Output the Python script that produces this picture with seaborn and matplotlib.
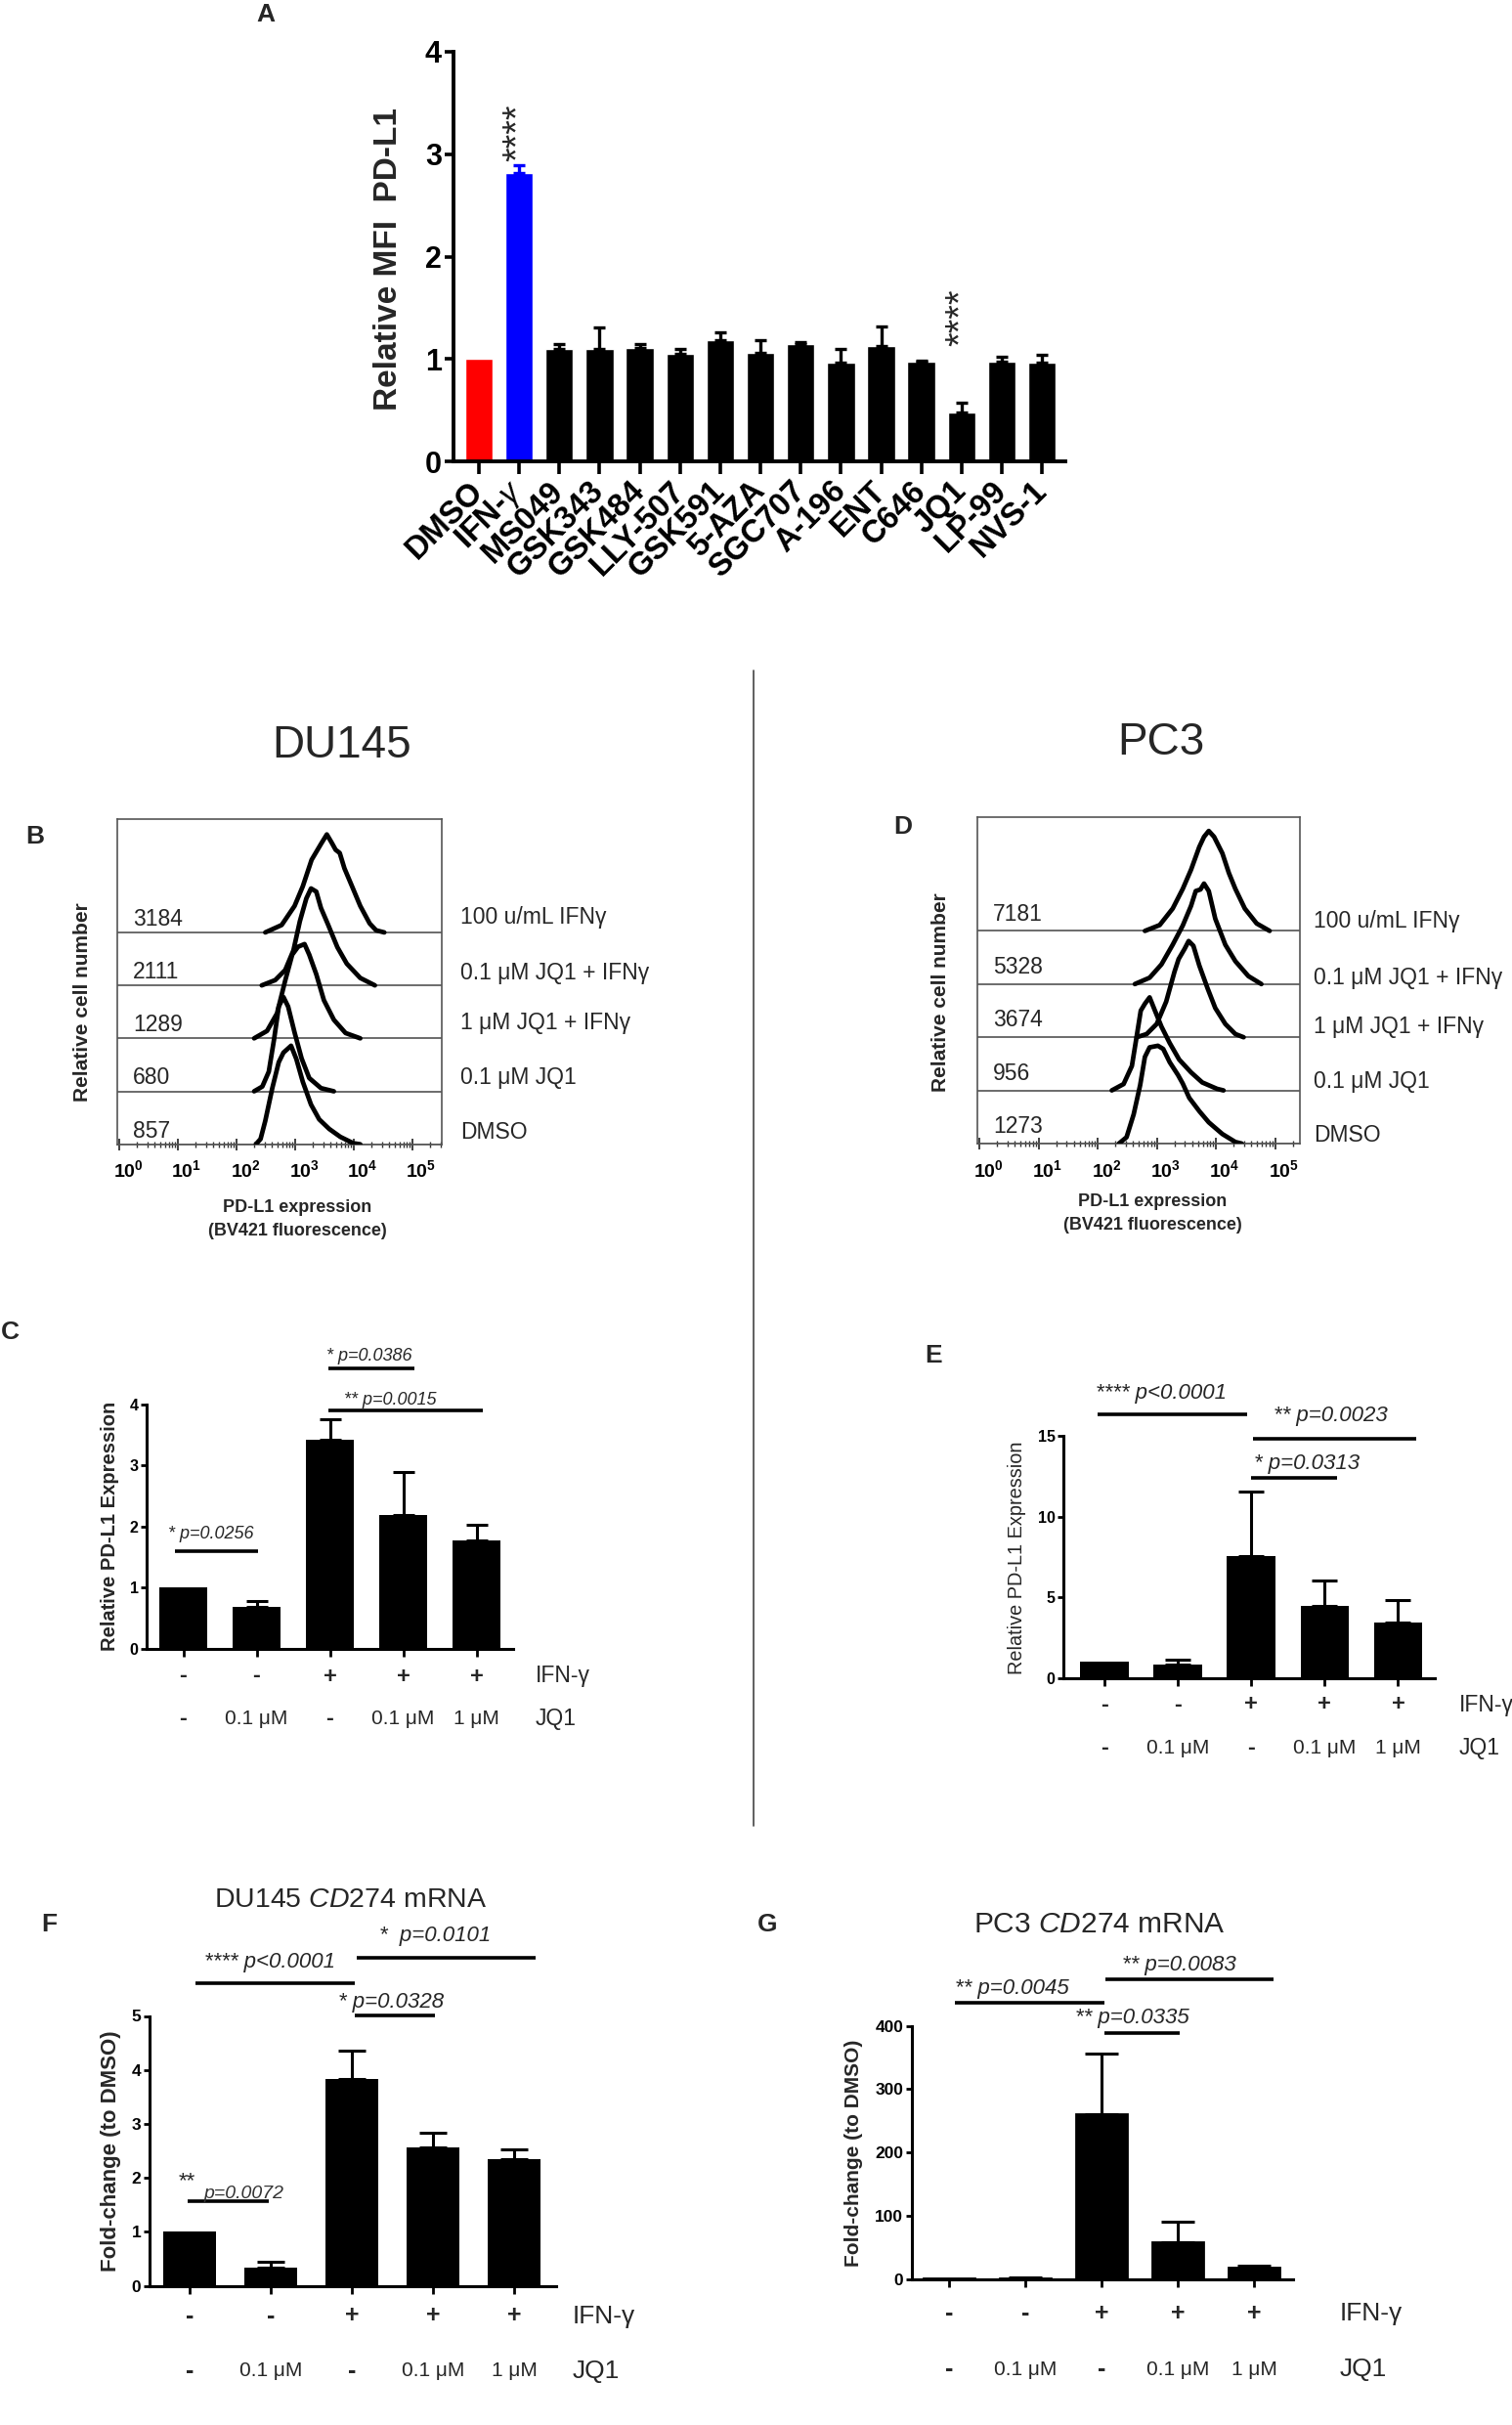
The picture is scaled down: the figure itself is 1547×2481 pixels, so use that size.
import numpy as np
import matplotlib
matplotlib.use("Agg")
import matplotlib.pyplot as plt
import matplotlib.transforms as mtransforms
from matplotlib.lines import Line2D
import seaborn as sns

# ---------------- data ----------------
# A: epigenetic probe screen, relative MFI of PD-L1
drug_labels = ['DMSO', 'IFN-$\\gamma$', 'MS049', 'GSK343', 'GSK484', 'LLY-507', 'GSK591',
               '5-AZA', 'SGC707', 'A-196', 'ENT', 'C646', 'JQ1', 'LP-99', 'NVS-1']
drug_mfi = [1.00, 2.82, 1.10, 1.10, 1.11, 1.05, 1.18, 1.06, 1.15, 0.96, 1.13, 0.97, 0.48, 0.97, 0.96]
drug_err = [0.00, 0.07, 0.05, 0.21, 0.04, 0.05, 0.08, 0.12, 0.01, 0.14, 0.19, 0.01, 0.09, 0.05, 0.08]
drug_colors = ['#ff0000', '#0000ff'] + ['#000000'] * 13

# B / D: flow histograms (log10 fluorescence, relative height), top row first
hist_names = ['100 u/mL IFNγ', '0.1 μM JQ1 + IFNγ', '1 μM JQ1 + IFNγ', '0.1 μM JQ1', 'DMSO']
du145_mfi = ['3184', '2111', '1289', '680', '857']
pc3_mfi = ['7181', '5328', '3674', '956', '1273']

du145_logx = [
    [2.49, 2.77, 2.99, 3.13, 3.28, 3.36, 3.44, 3.54, 3.62, 3.69, 3.76, 3.84, 3.97, 4.11, 4.27, 4.38, 4.52],
    [2.43, 2.66, 2.83, 2.97, 3.08, 3.19, 3.27, 3.36, 3.44, 3.56, 3.72, 3.88, 4.11, 4.36],
    [2.30, 2.52, 2.69, 2.83, 2.95, 3.05, 3.16, 3.24, 3.36, 3.49, 3.66, 3.86, 4.11],
    [2.30, 2.44, 2.55, 2.64, 2.72, 2.80, 2.88, 2.99, 3.11, 3.24, 3.44, 3.66],
    [2.33, 2.41, 2.49, 2.61, 2.72, 2.80, 2.93, 3.02, 3.13, 3.27, 3.41, 3.58, 3.77, 3.99, 4.11],
]
du145_height = [
    [0, 0.14, 0.50, 0.87, 1.37, 1.52, 1.67, 1.85, 1.70, 1.56, 1.50, 1.21, 0.87, 0.50, 0.17, 0.04, 0],
    [0, 0.10, 0.29, 0.66, 1.21, 1.64, 1.83, 1.77, 1.46, 1.15, 0.72, 0.41, 0.14, 0],
    [0, 0.14, 0.47, 1.09, 1.58, 1.73, 1.78, 1.58, 1.21, 0.72, 0.35, 0.10, 0],
    [0, 0.09, 0.37, 0.98, 1.60, 1.78, 1.60, 1.11, 0.62, 0.25, 0.06, 0],
    [0, 0.10, 0.44, 1.06, 1.55, 1.73, 1.86, 1.61, 1.18, 0.75, 0.47, 0.29, 0.14, 0.02, 0],
]
pc3_logx = [
    [2.80, 3.05, 3.27, 3.44, 3.58, 3.72, 3.80, 3.88, 3.97, 4.11, 4.22, 4.33, 4.49, 4.69, 4.91],
    [2.63, 2.88, 3.08, 3.27, 3.44, 3.58, 3.66, 3.74, 3.80, 3.88, 3.99, 4.16, 4.33, 4.55, 4.77],
    [2.66, 2.83, 3.00, 3.16, 3.30, 3.37, 3.47, 3.54, 3.62, 3.72, 3.86, 3.99, 4.16, 4.33, 4.47],
    [2.24, 2.44, 2.58, 2.66, 2.73, 2.80, 2.88, 2.97, 3.08, 3.22, 3.38, 3.58, 3.77, 4.02, 4.13],
    [2.36, 2.49, 2.61, 2.72, 2.80, 2.88, 3.02, 3.11, 3.22, 3.36, 3.44, 3.55, 3.72, 3.88, 4.11, 4.33, 4.44],
]
pc3_height = [
    [0, 0.11, 0.42, 0.79, 1.15, 1.58, 1.77, 1.88, 1.77, 1.46, 1.09, 0.79, 0.42, 0.14, 0],
    [0, 0.12, 0.37, 0.74, 1.10, 1.47, 1.75, 1.78, 1.89, 1.75, 1.23, 0.74, 0.43, 0.15, 0],
    [0, 0.06, 0.25, 0.67, 1.23, 1.47, 1.66, 1.81, 1.72, 1.35, 0.92, 0.55, 0.25, 0.06, 0],
    [0, 0.12, 0.46, 1.01, 1.50, 1.63, 1.75, 1.50, 1.20, 0.89, 0.58, 0.34, 0.15, 0.03, 0],
    [0, 0.12, 0.55, 1.10, 1.63, 1.81, 1.84, 1.78, 1.53, 1.29, 1.13, 0.86, 0.61, 0.40, 0.18, 0.03, 0],
]
decade_labels = [r'$\mathbf{10^{%d}}$' % k for k in range(6)]

# C / E / F / G: treatment bar charts
ifn_row = ['-', '-', '+', '+', '+']
jq1_row = ['-', '0.1 μM', '-', '0.1 μM', '1 μM']
du145_protein = [1.00, 0.68, 3.42, 2.19, 1.78]
du145_protein_err = [0, 0.095, 0.34, 0.71, 0.25]
pc3_protein = [1.00, 0.85, 7.58, 4.48, 3.47]
pc3_protein_err = [0, 0.32, 4.00, 1.58, 1.38]
du145_mrna = [1.00, 0.345, 3.84, 2.57, 2.34]
du145_mrna_err = [0, 0.095, 0.52, 0.27, 0.19]
pc3_mrna = [1.0, 0.8, 260.6, 58.0, 17.5]
pc3_mrna_err = [0, 2.2, 95.4, 32.6, 4.4]

# significance annotations: bar x0, x1, bar y, text x, text y, text
c_sig = [(-0.12, 1.02, 1.6, 0.38, 1.87, '* p=0.0256'),
         (1.98, 3.15, 4.6, 2.53, 4.79, '* p=0.0386'),
         (1.98, 4.08, 3.9, 2.83, 4.07, '** p=0.0015')]
e_sig = [(-0.09, 1.95, 16.36, 0.77, 17.66, '**** p<0.0001'),
         (2.02, 4.25, 14.8, 3.08, 16.27, '** p=0.0023'),
         (1.99, 3.17, 12.4, 2.75, 13.25, '* p=0.0313')]
f_sig = [(0.07, 2.04, 5.6, 0.99, 5.99, '**** p<0.0001'),
         (2.06, 4.26, 6.08, 3.02, 6.49, '*  p=0.0101'),
         (2.04, 3.02, 5.01, 2.48, 5.26, '* p=0.0328')]
g_sig = [(0.08, 2.04, 436, 0.82, 459.6, '** p=0.0045'),
         (2.05, 4.25, 474, 3.01, 496.6, '** p=0.0083'),
         (2.04, 3.03, 389, 2.40, 412.3, '** p=0.0335')]

# ---------------- style ----------------
sns.set_style("ticks")
plt.rcParams['font.family'] = ['Liberation Sans', 'DejaVu Sans']
plt.rcParams['mathtext.fontset'] = 'custom'
plt.rcParams['mathtext.rm'] = 'Liberation Sans'
plt.rcParams['mathtext.it'] = 'Liberation Sans:italic'
plt.rcParams['mathtext.bf'] = 'Liberation Sans:bold'
plt.rcParams['axes.edgecolor'] = 'black'
plt.rcParams['xtick.color'] = 'black'
plt.rcParams['ytick.color'] = 'black'

W, H = 1547, 2481
fig = plt.figure(figsize=(W / 100, H / 100), dpi=100)


def axes_px(l, t, r, b):
    return fig.add_axes([l / W, 1 - b / H, (r - l) / W, (b - t) / H])


def ftext(x, y, s, **kw):
    fig.text(x / W, 1 - y / H, s, **kw)


def letter(x, y, s):
    ftext(x, y, s, fontsize=19, fontweight='bold', ha='center', va='center')


# ---------------- A ----------------
ax = axes_px(463.6, 53, 1090, 472)
sns.barplot(x=drug_labels, y=drug_mfi, hue=drug_labels, palette=drug_colors, legend=False,
            width=0.69, saturation=1, errorbar=None, ax=ax)
for i, (m, e, c) in enumerate(zip(drug_mfi, drug_err, drug_colors)):
    if e > 0:
        ax.errorbar(i, m, yerr=[[0], [e]], fmt='none', ecolor=c, elinewidth=2.4,
                    capsize=4.5, capthick=2.4, zorder=1)
ax.set_xlim(-0.64, 14.58)
ax.set_ylim(0, 4)
ax.set_yticks([0, 1, 2, 3, 4])
ax.set_xlabel('')
ax.set_ylabel('')
sns.despine(ax=ax)
for sp in ax.spines.values():
    sp.set_linewidth(2.8)
ax.tick_params(axis='y', length=6.5, width=2.6, labelsize=22, pad=2)
ax.tick_params(axis='x', length=9.5, width=2.6, labelsize=23.5, pad=9)
for lbl in ax.get_yticklabels():
    lbl.set_fontweight('bold')
for lbl in ax.get_xticklabels():
    lbl.set_fontweight('bold')
    lbl.set_rotation(45)
    lbl.set_ha('right')
    lbl.set_va('center')
    lbl.set_rotation_mode('anchor')
ax.text(1, 2.93, '****', rotation=90, ha='center', va='bottom', fontsize=27)
ax.text(12, 1.13, '****', rotation=90, ha='center', va='bottom', fontsize=27)
ftext(398, 265, 'Relative MFI  PD-L1', rotation=90, fontsize=24, fontweight='bold',
      ha='center', va='center')
letter(272, 15, 'A')

# ---------------- B / D ----------------
def hist_panel(box, x0px, decade, logx, heights, mfi, name_x, name_ys, mfi_dy):
    l, t, r, b = box
    ax = axes_px(l, t, r, b)
    for row, (xs, hs) in enumerate(zip(logx, heights)):
        base = 4 - row
        ax.axhline(base, color='#444444', lw=1.1, zorder=1)
        sns.lineplot(x=xs, y=np.array(hs) + base, ax=ax, color='black', linewidth=3.4,
                     estimator=None, sort=False, zorder=3)
        ax.text(0.23, base + mfi_dy, mfi[row], fontsize=16.5, ha='left', va='center')
        ftext(name_x, name_ys[row], hist_names[row], fontsize=16.5, ha='left', va='center')
    xmin = (l - x0px) / decade
    xmax = (r - x0px) / decade
    ax.set_xlim(xmin, xmax)
    ax.set_ylim(0, 6.14)
    ax.set_yticks([])
    ax.set_xticks(range(6))
    ax.set_xticklabels(decade_labels)
    minor = [np.log10(m) + k for k in range(6) for m in range(2, 10) if np.log10(m) + k < xmax]
    ax.set_xticks(minor, minor=True)
    ax.tick_params(axis='x', which='major', direction='inout', length=9, width=1.3,
                   color='#333333', labelsize=14, pad=7)
    ax.tick_params(axis='x', which='minor', direction='inout', length=5, width=1.0,
                   color='#333333')
    shift = mtransforms.ScaledTranslation(9 / 100, 0, fig.dpi_scale_trans)
    for lbl in ax.get_xticklabels():
        lbl.set_transform(lbl.get_transform() + shift)
    for sp in ax.spines.values():
        sp.set_linewidth(1.2)
        sp.set_color('#555555')
    return ax


hist_panel((120, 838, 451.7, 1170.7), 122, 60, du145_logx, du145_height, du145_mfi,
           471, [938, 996, 1046, 1102, 1158], 0.25)
hist_panel((1000, 836, 1330, 1170), 1002, 60.5, pc3_logx, pc3_height, pc3_mfi,
           1344, [942, 1000, 1050, 1106, 1161.5], 0.32)

ftext(350, 763, 'DU145', fontsize=33, ha='center', va='center')
ftext(1188, 760, 'PC3', fontsize=33, ha='center', va='center')
for x, y0 in [(304, 1235), (1179, 1229)]:
    ftext(x, y0, 'PD-L1 expression', fontsize=13, fontweight='bold', ha='center', va='center')
    ftext(x, y0 + 25, '(BV421 fluorescence)', fontsize=13, fontweight='bold', ha='center', va='center')
ftext(85, 1025, 'Relative cell number', rotation=90, fontsize=15, fontweight='bold',
      ha='center', va='center')
ftext(962, 1015, 'Relative cell number', rotation=90, fontsize=15, fontweight='bold',
      ha='center', va='center')
letter(36, 856, 'B')
letter(924, 846, 'D')

# separator
fig.add_artist(Line2D([771 / W, 771 / W], [1 - 686 / H, 1 - 1868 / H], color='#444444', lw=1.2))


# ---------------- C / E / F / G ----------------
def treatment_panel(box, means, errs, width, capsize, ylim, yticks, xlim, sig, sig_fs,
                    tick_fs, rows_y, side_x, sign_fs, dose_fs, name_fs, edge=0.0):
    ax = axes_px(*box)
    sns.barplot(x=list(range(len(means))), y=means, color='black', width=width, saturation=1,
                errorbar=None, ax=ax, edgecolor='black', linewidth=edge)
    for i, (m, e) in enumerate(zip(means, errs)):
        if e > 0:
            ax.errorbar(i, m, yerr=[[0], [e]], fmt='none', ecolor='black', elinewidth=2.2,
                        capsize=capsize, capthick=2.2, zorder=1)
    ax.set_xlim(*xlim)
    ax.set_ylim(*ylim)
    ax.set_yticks(yticks)
    ax.set_xticks(range(len(means)))
    ax.set_xticklabels([''] * len(means))
    ax.set_xlabel('')
    ax.set_ylabel('')
    sns.despine(ax=ax)
    for sp in ax.spines.values():
        sp.set_linewidth(2.2)
    ax.tick_params(axis='y', length=4.5, width=2.0, labelsize=tick_fs, pad=1.5)
    ax.tick_params(axis='x', length=5.5, width=2.0)
    for lbl in ax.get_yticklabels():
        lbl.set_fontweight('bold')
    for x0, x1, yb, tx, ty, s in sig:
        ax.plot([x0, x1], [yb, yb], color='black', lw=2.6, clip_on=False,
                solid_capstyle='butt')
        ax.text(tx, ty, s, fontsize=sig_fs, style='italic', ha='center', va='center',
                clip_on=False)
    trans = mtransforms.blended_transform_factory(ax.transData, fig.transFigure)
    for i in range(len(means)):
        ax.text(i, 1 - rows_y[0] / H, ifn_row[i], transform=trans, fontsize=sign_fs,
                fontweight='bold', ha='center', va='center')
        ax.text(i, 1 - rows_y[1] / H, jq1_row[i], transform=trans,
                fontsize=sign_fs if jq1_row[i] == '-' else dose_fs,
                fontweight='bold' if jq1_row[i] == '-' else 'normal', ha='center', va='center')
    ftext(side_x, rows_y[0], 'IFN-γ', fontsize=name_fs, ha='left', va='center')
    ftext(side_x, rows_y[1], 'JQ1', fontsize=name_fs, ha='left', va='center')
    return ax


treatment_panel((150, 1437, 525, 1686.7), du145_protein, du145_protein_err, 0.65, 8,
                (0, 4), [0, 1, 2, 3, 4], (-0.5, 4.5), c_sig, 13, 11.5, (1715, 1759), 547.5,
                17, 15, 16.5)
ftext(112.5, 1561.5, 'Relative PD-L1 Expression', rotation=90, fontsize=14.5,
      fontweight='bold', ha='center', va='center')
letter(10, 1363, 'C')

treatment_panel((1088, 1469, 1468, 1717), pc3_protein, pc3_protein_err, 0.66, 9.4,
                (0, 15), [0, 5, 10, 15], (-0.56, 4.5), e_sig, 16, 11.5, (1744, 1788), 1493,
                17, 15, 16.5)
ftext(1041, 1593.5, 'Relative PD-L1 Expression', rotation=90, fontsize=14.3,
      ha='center', va='center')
letter(955, 1387, 'E')

axf = treatment_panel((152.5, 2062.5, 568.5, 2338.7), du145_mrna, du145_mrna_err, 0.65, 10.4,
                      (0, 5), [0, 1, 2, 3, 4, 5], (-0.5, 4.51), f_sig, 16, 12.5,
                      (2369.5, 2425.7), 586, 18, 15, 19)
axf.plot([-0.02, 0.98], [1.57, 1.57], color='black', lw=2.6, clip_on=False,
         solid_capstyle='butt')
axf.text(-0.03, 1.93, '**', fontsize=16, ha='center', va='center')
axf.text(0.67, 1.70, 'p=0.0072', fontsize=14, style='italic', color='#333333',
         ha='center', va='center')
ftext(114, 2200.5, 'Fold-change (to DMSO)', rotation=90, fontsize=16, fontweight='bold',
      ha='center', va='center')
ftext(359, 1944, 'DU145 $\\mathit{CD274}$ mRNA', fontsize=20.5, ha='center', va='center')
letter(50, 1969, 'F')

treatment_panel((932.7, 2072.7, 1323, 2331.8), pc3_mrna, pc3_mrna_err, 0.66, 12,
                (0, 400), [0, 100, 200, 300, 400], (-0.49, 4.51), g_sig, 16, 12.5,
                (2367.4, 2424), 1371, 18, 15, 19, edge=2.0)
ftext(873.6, 2203, 'Fold-change (to DMSO)', rotation=90, fontsize=15, fontweight='bold',
      ha='center', va='center')
ftext(1125, 1969.4, 'PC3 $\\mathit{CD274}$ mRNA', fontsize=21.5, ha='center', va='center')
letter(785, 1969, 'G')

fig.savefig('out.png', dpi=100)
